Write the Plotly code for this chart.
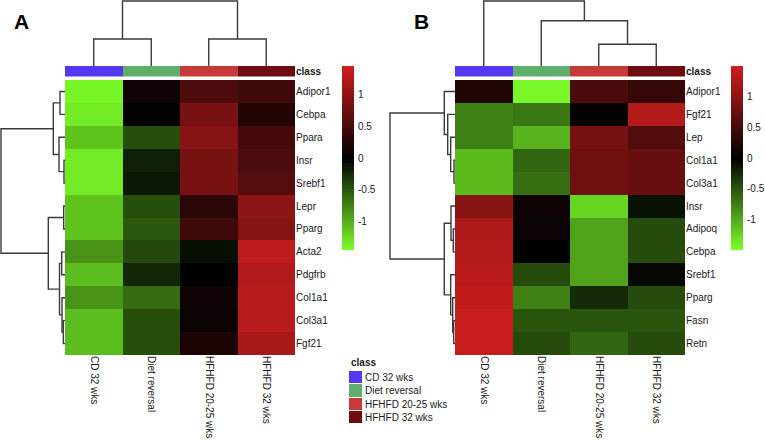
import plotly.graph_objects as go

W, H = 765, 440

# ---------------- data ----------------
columns = ["CD 32 wks", "Diet reversal", "HFHFD 20-25 wks", "HFHFD 32 wks"]
class_colors = ["#5238F0", "#5FAF6C", "#C83A3A", "#6E0C10"]

genes_a = ["Adipor1", "Cebpa", "Ppara", "Insr", "Srebf1", "Lepr", "Pparg",
           "Acta2", "Pdgfrb", "Col1a1", "Col3a1", "Fgf21"]
values_a = [
    [-1.40, 0.10, 0.55, 0.45],
    [-1.35, 0.02, 0.85, 0.25],
    [-1.12, -0.45, 0.95, 0.50],
    [-1.35, -0.18, 0.85, 0.55],
    [-1.35, -0.14, 0.85, 0.60],
    [-1.12, -0.45, 0.30, 1.00],
    [-1.12, -0.50, 0.45, 0.95],
    [-0.85, -0.42, -0.08, 1.35],
    [-1.08, -0.22, 0.00, 1.25],
    [-0.85, -0.62, 0.10, 1.30],
    [-1.08, -0.45, 0.08, 1.30],
    [-1.08, -0.45, 0.20, 1.20],
]

genes_b = ["Adipor1", "Fgf21", "Lep", "Col1a1", "Col3a1", "Insr", "Adipoq",
           "Cebpa", "Srebf1", "Pparg", "Fasn", "Retn"]
values_b = [
    [0.25, -1.45, 0.55, 0.40],
    [-0.75, -0.70, 0.03, 1.30],
    [-0.75, -1.05, 0.85, 0.60],
    [-1.10, -0.60, 0.80, 0.75],
    [-1.10, -0.65, 0.80, 0.75],
    [1.00, 0.10, -1.25, -0.10],
    [1.25, 0.08, -0.95, -0.45],
    [1.30, 0.00, -0.95, -0.45],
    [1.35, -0.45, -0.95, -0.05],
    [1.40, -0.75, -0.25, -0.45],
    [1.45, -0.50, -0.50, -0.50],
    [1.45, -0.45, -0.60, -0.45],
]

# hierarchical clustering merges: (left, right, height); ids >= n are earlier merges
col_link_a = [(0, 1, 2.7), (2, 3, 2.7), (4, 5, 6.5)]
col_link_b = [(2, 3, 2.17), (1, 4, 4.53), (0, 5, 6.5)]
row_link_a = [(3, 4, 0.10), (0, 1, 0.50), (5, 6, 0.13), (10, 11, 0.17),
              (7, 8, 0.33), (9, 15, 0.30), (16, 17, 0.55), (2, 12, 0.60),
              (13, 19, 1.17), (14, 18, 1.67), (20, 21, 6.4)]
row_link_b = [(3, 4, 0.10), (10, 11, 0.13), (6, 7, 0.17), (9, 13, 0.23),
              (2, 12, 0.43), (5, 14, 0.40), (8, 15, 0.43), (1, 16, 0.73),
              (17, 18, 1.07), (0, 19, 1.07), (21, 20, 6.5)]

colorbar_ticks = [-1, -0.5, 0, 0.5, 1]
zlims = [1.46, 1.50]

# ---------------- helpers ----------------
def fx(px):
    return px / W


def fy(py):
    return 1 - py / H


def dendro_lines(link, n):
    pos = {i: float(i) for i in range(n)}
    hgt = {i: 0.0 for i in range(n)}
    P, Q = [], []
    for k, (a, b, h) in enumerate(link):
        P += [pos[a], pos[a], pos[b], pos[b], None]
        Q += [hgt[a], h, h, hgt[b], None]
        pos[n + k] = (pos[a] + pos[b]) / 2
        hgt[n + k] = h
    return P, Q


def ax(n):
    return "axis" if n == 1 else f"axis{n}"


def ref(n):
    return "" if n == 1 else str(n)


FONT = "Liberation Sans, Arial, sans-serif"
TXT = "#1a1a1a"
LINE = "#3a3a3a"
heat_scale = [[0, "#7DFF28"], [0.5, "#000000"], [1, "#CE1E1E"]]


def discrete_scale(colors):
    n = len(colors)
    s = []
    for i, c in enumerate(colors):
        s.append([i / n, c])
        s.append([(i + 1) / n, c])
    return s


fig = go.Figure()
layout = {}

panels = [
    dict(genes=genes_a, vals=values_a, col_link=col_link_a, row_link=row_link_a,
         hx=(65, 295), rd=(0, 65), rd_max=6.5, cb_x=342, label="A", label_x=12),
    dict(genes=genes_b, vals=values_b, col_link=col_link_b, row_link=row_link_b,
         hx=(455, 685), rd=(389, 455), rd_max=6.6, cb_x=731, label="B", label_x=412),
]

hy = (80, 355)
cy = (66, 76.5)
dy = (0, 66)
cby = (66, 250)

annotations = []
tickfont = dict(size=10, color=TXT, family=FONT)

for p, pan in enumerate(panels):
    nh, nc, nd, nr = 5 * p + 1, 5 * p + 2, 5 * p + 3, 5 * p + 4
    nb = 5 * p + 5
    ng = len(pan["genes"])
    zl = zlims[p]

    # main heatmap
    fig.add_trace(go.Heatmap(
        z=pan["vals"], x=list(range(4)), y=list(range(ng)),
        colorscale=heat_scale, zmin=-zl, zmax=zl, showscale=False,
        xaxis="x" + ref(nh), yaxis="y" + ref(nh), hoverinfo="skip"))
    layout["x" + ax(nh)] = dict(domain=[fx(pan["hx"][0]), fx(pan["hx"][1])],
                                range=[-0.5, 3.5], anchor="y" + ref(nh),
                                tickvals=list(range(4)), ticktext=columns,
                                tickangle=90, ticks="", showgrid=False,
                                zeroline=False, showline=False, tickfont=tickfont)
    layout["y" + ax(nh)] = dict(domain=[fy(hy[1]), fy(hy[0])],
                                range=[ng - 0.5, -0.5], anchor="x" + ref(nh),
                                side="right", tickvals=list(range(ng)),
                                ticktext=pan["genes"], ticks="", showgrid=False,
                                zeroline=False, showline=False, tickfont=tickfont)

    # class annotation bar
    fig.add_trace(go.Heatmap(
        z=[[0, 1, 2, 3]], x=list(range(4)), y=[0],
        colorscale=discrete_scale(class_colors), zmin=-0.5, zmax=3.5,
        showscale=False, hoverinfo="skip",
        xaxis="x" + ref(nc), yaxis="y" + ref(nc)))
    layout["x" + ax(nc)] = dict(domain=[fx(pan["hx"][0]), fx(pan["hx"][1])],
                                range=[-0.5, 3.5], anchor="y" + ref(nc),
                                visible=False)
    layout["y" + ax(nc)] = dict(domain=[fy(cy[1]), fy(cy[0])],
                                range=[-0.5, 0.5], anchor="x" + ref(nc),
                                side="right", tickvals=[0],
                                ticktext=["<b>class</b>"], ticks="",
                                showgrid=False, zeroline=False, showline=False,
                                tickfont=tickfont)

    # column dendrogram
    P, Q = dendro_lines(pan["col_link"], 4)
    fig.add_trace(go.Scatter(x=P, y=Q, mode="lines",
                             line=dict(color=LINE, width=1.4),
                             hoverinfo="skip", showlegend=False, cliponaxis=False,
                             xaxis="x" + ref(nd), yaxis="y" + ref(nd)))
    layout["x" + ax(nd)] = dict(domain=[fx(pan["hx"][0]), fx(pan["hx"][1])],
                                range=[-0.5, 3.5], anchor="y" + ref(nd),
                                visible=False)
    layout["y" + ax(nd)] = dict(domain=[fy(dy[1]), fy(dy[0])],
                                range=[0, 6.6], anchor="x" + ref(nd),
                                visible=False)

    # row dendrogram
    P, Q = dendro_lines(pan["row_link"], ng)
    fig.add_trace(go.Scatter(x=Q, y=P, mode="lines",
                             line=dict(color=LINE, width=1.4),
                             hoverinfo="skip", showlegend=False, cliponaxis=False,
                             xaxis="x" + ref(nr), yaxis="y" + ref(nr)))
    layout["x" + ax(nr)] = dict(domain=[fx(pan["rd"][0]), fx(pan["rd"][1])],
                                range=[pan["rd_max"], 0], anchor="y" + ref(nr),
                                visible=False)
    layout["y" + ax(nr)] = dict(domain=[fy(hy[1]), fy(hy[0])],
                                range=[ng - 0.5, -0.5], anchor="x" + ref(nr),
                                visible=False)

    # colour key (gradient drawn on its own axis, so it does not push margins)
    fig.add_trace(go.Heatmap(
        z=[[-zl, -zl], [0, 0], [zl, zl]], x=[0, 1], y=[-zl, 0, zl],
        colorscale=heat_scale, zmin=-zl, zmax=zl, zsmooth="best",
        showscale=False, hoverinfo="skip",
        xaxis="x" + ref(nb), yaxis="y" + ref(nb)))
    layout["x" + ax(nb)] = dict(domain=[fx(pan["cb_x"]), fx(pan["cb_x"] + 12)],
                                range=[0, 1], anchor="y" + ref(nb), visible=False)
    layout["y" + ax(nb)] = dict(domain=[fy(cby[1]), fy(cby[0])],
                                range=[-zl, zl], anchor="x" + ref(nb),
                                side="right", tickvals=colorbar_ticks,
                                ticktext=[str(t) for t in colorbar_ticks],
                                ticks="", ticklabelstandoff=3, showgrid=False,
                                zeroline=False, showline=False, tickfont=tickfont)

    annotations.append(dict(text="<b>" + pan["label"] + "</b>", xref="paper",
                            yref="paper", x=fx(pan["label_x"]), y=fy(8),
                            xanchor="left", yanchor="top", showarrow=False,
                            font=dict(size=21, color="#000", family=FONT)))

# legend drawn as a small heatmap with labels
fig.add_trace(go.Heatmap(
    z=[[i] for i in range(len(columns))], x=[0], y=list(range(len(columns))),
    colorscale=discrete_scale(class_colors), zmin=-0.5, zmax=3.5,
    showscale=False, hoverinfo="skip", ygap=1,
    xaxis="x11", yaxis="y11"))
layout["xaxis11"] = dict(domain=[fx(349), fx(362.3)], range=[-0.5, 0.5],
                         anchor="y11", visible=False)
layout["yaxis11"] = dict(domain=[fy(424), fy(371)], range=[3.5, -0.5],
                         anchor="x11", visible=False)
for i, name in enumerate(columns):
    annotations.append(dict(text=name, xref="x11", yref="y11", x=0.5, y=i,
                            xanchor="left", yanchor="middle", xshift=1,
                            showarrow=False, font=tickfont))
annotations.append(dict(text="<b>class</b>", xref="x11", yref="y11", x=-0.5,
                        y=-0.5, xanchor="left", yanchor="bottom", yshift=1,
                        showarrow=False, font=tickfont))

fig.update_layout(**layout)
fig.update_layout(width=W, height=H, margin=dict(l=0, r=0, t=0, b=0),
                  paper_bgcolor="white", plot_bgcolor="white",
                  showlegend=False, annotations=annotations,
                  font=dict(family=FONT, size=10, color=TXT))

# remove the browser's default 8px page margin so the figure sits at (0, 0)
fig.write_html("out.html",
               config={"displayModeBar": False, "staticPlot": True},
               post_script="document.body.style.margin='0';"
                           "document.body.style.overflow='hidden';")
